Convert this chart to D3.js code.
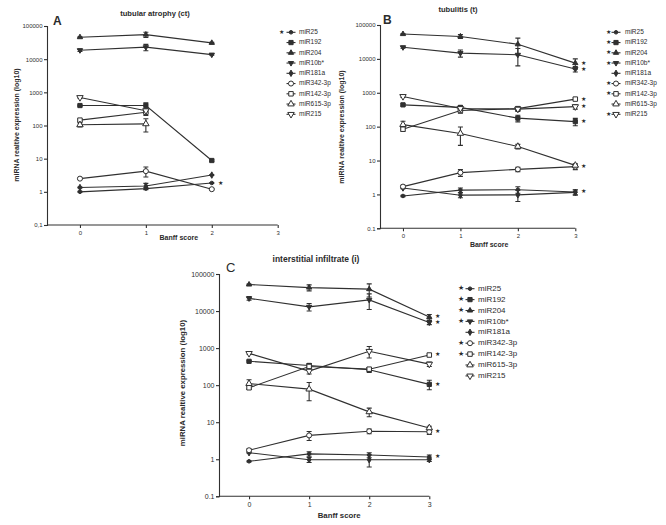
<!DOCTYPE html>
<html><head><meta charset="utf-8">
<script src="https://cdn.jsdelivr.net/npm/d3@7"></script>
<style>body{margin:0;background:#fff}svg{display:block}text{font-family:"Liberation Sans",Arial,sans-serif;fill:#2b2b2b}</style>
</head><body><svg id="c" width="666" height="525"></svg>
<script>
// ---------- DATA ----------
const seriesNames = ["miR25","miR192","miR204","miR10b*","miR181a","miR342-3p","miR142-3p","miR615-3p","miR215"];
const yTicks = [0.1,1,10,100,1000,10000,100000];
const xTicksAll = [0,1,2,3];
const xA = [0,1,2];
const xBC = [0,1,2,3];
// Panel A: tubular atrophy (ct)
const aMean = [
  [1.0,1.25,1.85],[400,400,8.8],[46000,55000,31000],[18600,23000,13700],[1.35,1.5,3.2],
  [2.5,4.2,1.2],[145,250,null],[105,112,null],[700,280,null]];
const aSem = [
  [0.03,0.1,0.05],[15,80,0.5],[1500,10000,1000],[1500,5000,600],[0.04,0.3,0.1],
  [0.1,1.4,0.05],[10,50,null],[15,48,null],[30,40,null]];
const aSig = [true,false,false,false,false,false,false,false,false];
// Panel B: tubulitis (t)
const bMean = [
  [0.9,1.34,1.38,1.18],[440,370,178,141],[54000,46000,27000,7500],[22000,14800,13200,5000],[1.55,0.95,0.97,1.15],
  [1.7,4.4,5.5,6.6],[84,300,340,650],[115,63,26,7.2],[780,345,330,390]];
const bSem = [
  [0.04,0.2,0.3,0.2],[30,50,40,35],[1500,6000,14000,2500],[1500,3500,7000,900],[0.08,0.15,0.35,0.2],
  [0.15,1.0,0.8,1.2],[10,50,40,60],[30,35,4,0.8],[50,40,50,60]];
const bSig = [true,true,true,true,false,true,true,false,true];
// Panel C: interstitial infiltrate (i)
const cMean = [
  [0.88,1.4,1.3,1.15],[440,340,260,105],[52000,43000,39000,6900],[22000,13000,20000,4900],[1.5,0.97,0.97,0.97],
  [1.75,4.4,5.7,5.5],[85,320,270,650],[110,78,19,7.0],[720,240,820,370]];
const cSem = [
  [0.03,0.2,0.2,0.15],[20,40,40,30],[1500,8000,15000,1200],[2500,3000,9000,600],[0.05,0.15,0.35,0.1],
  [0.15,1.2,0.8,0.8],[8,50,30,40],[30,40,5,0.8],[40,40,280,50]];
const cSig = [true,true,true,true,false,true,true,false,false];

// ---------- STYLE ----------
const markerStyle = [
  {t:d3.symbolCircle,s:10,f:true},{t:d3.symbolSquare,s:18,f:true},{t:d3.symbolTriangle,s:12,f:true},
  {t:d3.symbolTriangle,s:12,f:true,r:180},{t:d3.symbolDiamond,s:12,f:true},{t:d3.symbolCircle,s:20,f:false},
  {t:d3.symbolSquare,s:20,f:false},{t:d3.symbolTriangle,s:18,f:false},{t:d3.symbolTriangle,s:18,f:false,r:180}];
const INK = "#303030";
const svg = d3.select("#c");

const panels = [
 {letter:"A",title:"tubular atrophy (ct)",x:xA,mean:aMean,sem:aSem,sig:aSig,comma:true,
  xr:[47,277.7],yr:[225,26],fs:6,titleFs:7.6,labFs:7,legFs:6.5,starFs:6,
  titleX:155,titleY:16,letX:53,letY:25,letFs:12,yLabX:17,yLabY:125,xLabY:240,xTickY:233,
  leg:{star:281,mk:291,tx:299,y0:32.3,dy:10.25}},
 {letter:"B",title:"tubulitis (t)",x:xBC,mean:bMean,sem:bSem,sig:bSig,comma:false,
  xr:[380,575.3],yr:[228.3,25],fs:6,titleFs:7.6,labFs:7,legFs:6.5,starFs:5.5,xmin:-0.4,
  titleX:458,titleY:12,letX:383,letY:24,letFs:12,yLabX:342,yLabY:127,xLabY:247,xTickY:237,
  leg:{star:608,mk:616,tx:625,y0:32.3,dy:10.25}},
 {letter:"C",title:"interstitial infiltrate (i)",x:xBC,mean:cMean,sem:cSem,sig:cSig,comma:false,
  xr:[219,429.3],yr:[496.3,274],fs:7,titleFs:8.5,labFs:7.8,legFs:8,starFs:5.5,
  titleX:316,titleY:262,letX:226,letY:272,letFs:13,letBold:false,yLabX:183,yLabY:383,xLabY:518,xTickY:510,
  leg:{star:461,mk:470,tx:478,y0:288.7,dy:10.9}}
];

panels.forEach(p=>{
  const g = svg.append("g");
  const xs = d3.scaleLinear().domain([p.xmin ?? -0.5, 3]).range(p.xr);
  const ys = d3.scaleLog().domain([0.1,100000]).range(p.yr);
  const fmt = v => v<1 ? (p.comma ? "0,1" : "0.1") : String(v);
  // y axis
  const ya = g.append("g").attr("transform",`translate(${p.xr[0]},0)`)
    .call(d3.axisLeft(ys).tickValues(yTicks).tickFormat(fmt).tickSize(3).tickPadding(1.5));
  ya.selectAll("text").attr("font-size",p.fs).attr("font-family","Liberation Sans, Arial").style("fill",INK);
  ya.selectAll("line,path").attr("stroke",INK).attr("stroke-width",1.1);
  // x axis
  const xa = g.append("g").attr("transform",`translate(0,${p.yr[0]})`)
    .call(d3.axisBottom(xs).tickValues(xTicksAll).tickFormat(d3.format("d")).tickSize(3).tickPadding(2.5));
  xa.select("path").attr("d",`M${p.xr[0]},0H${p.xr[1]}`);
  xa.selectAll("text").attr("font-size",p.fs).attr("font-family","Liberation Sans, Arial").style("fill",INK);
  xa.selectAll("line,path").attr("stroke",INK).attr("stroke-width",1.1);
  // labels
  g.append("text").attr("x",p.titleX).attr("y",p.titleY).attr("text-anchor","middle")
    .attr("font-size",p.titleFs).attr("font-weight","bold").text(p.title);
  g.append("text").attr("x",p.letX).attr("y",p.letY).attr("font-size",p.letFs)
    .attr("font-weight",p.letBold===false?"normal":"bold").text(p.letter);
  g.append("text").attr("transform",`translate(${p.yLabX},${p.yLabY}) rotate(-90)`).attr("text-anchor","middle")
    .attr("dominant-baseline","middle").attr("font-size",p.labFs).attr("font-weight","bold").text("miRNA realtive expression (log10)");
  g.append("text").attr("x",(xs(0)+xs(3))/2).attr("y",p.xLabY).attr("text-anchor","middle")
    .attr("font-size",p.labFs).attr("font-weight","bold").text("Banff score");

  const line = d3.line().defined(d=>d.v!=null).x(d=>xs(d.x)).y(d=>ys(d.v));
  p.mean.forEach((vals,i)=>{
    const pts = vals.map((v,j)=>({x:p.x[j],v:v,e:p.sem[i][j]}));
    g.append("path").attr("d",line(pts)).attr("fill","none").attr("stroke",INK).attr("stroke-width",1.1);
    pts.filter(d=>d.v!=null).forEach(d=>{
      if(d.e){
        const lo = ys(Math.max(d.v-d.e, d.v*0.3)), hi = ys(d.v+d.e), cx = xs(d.x);
        g.append("path").attr("d",`M${cx},${lo}V${hi}M${cx-2.5},${lo}H${cx+2.5}M${cx-2.5},${hi}H${cx+2.5}`)
          .attr("stroke",INK).attr("stroke-width",1.1).attr("fill","none");
      }
    });
  });
  p.mean.forEach((vals,i)=>{
    const m = markerStyle[i];
    vals.forEach((v,j)=>{
      if(v==null) return;
      g.append("path").attr("d",d3.symbol().type(m.t).size(m.s)())
        .attr("transform",`translate(${xs(p.x[j])},${ys(v)}) rotate(${m.r||0})`)
        .attr("fill",m.f?INK:"#fff").attr("stroke",INK).attr("stroke-width",1);
    });
    if(p.sig[i]){
      const last = vals.length-1 - [...vals].reverse().findIndex(v=>v!=null);
      g.append("text").attr("x",xs(p.x[last])+6).attr("y",ys(vals[last])).attr("dominant-baseline","middle")
        .attr("font-size",p.starFs).attr("font-family","DejaVu Sans").text("★");
    }
  });
  // legend
  seriesNames.forEach((name,i)=>{
    const y = p.leg.y0 + i*p.leg.dy, m = markerStyle[i];
    if(p.sig[i]) g.append("text").attr("x",p.leg.star).attr("y",y).attr("text-anchor","middle")
      .attr("dominant-baseline","middle").attr("font-size",p.legFs*0.85).attr("font-family","DejaVu Sans").text("★");
    g.append("path").attr("d",`M${p.leg.mk-4.5},${y}H${p.leg.mk+4.5}`).attr("stroke",INK).attr("stroke-width",1.1);
    g.append("path").attr("d",d3.symbol().type(m.t).size(m.s)())
      .attr("transform",`translate(${p.leg.mk},${y}) rotate(${m.r||0})`)
      .attr("fill",m.f?INK:"#fff").attr("stroke",INK).attr("stroke-width",1);
    g.append("text").attr("x",p.leg.tx).attr("y",y).attr("dominant-baseline","middle")
      .attr("font-size",p.legFs).text(name);
  });
});
</script></body></html>
